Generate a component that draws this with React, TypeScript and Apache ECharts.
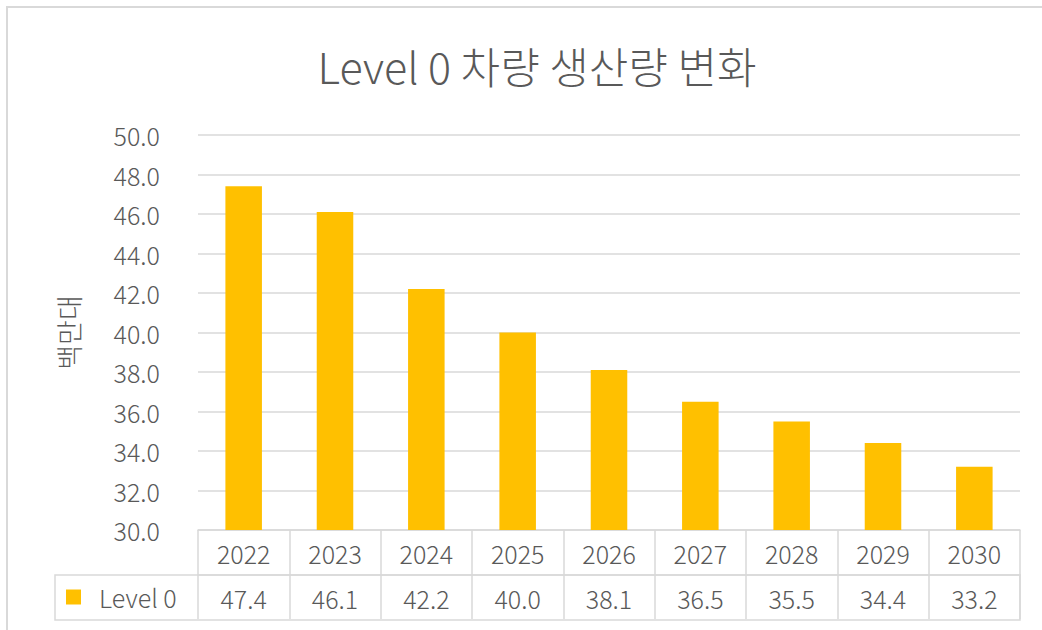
import React, { useEffect, useRef } from "react";
import * as echarts from "echarts";

const years = ["2022", "2023", "2024", "2025", "2026", "2027", "2028", "2029", "2030"];
const level0 = [47.4, 46.1, 42.2, 40.0, 38.1, 36.5, 35.5, 34.4, 33.2];
const seriesName = "Level 0";
const titleText = "Level 0 차량 생산량 변화";
const yAxisName = "백만대";
const yMin = 30;
const yMax = 50;
const yStep = 2;

const FONT = "'Noto Sans CJK KR', 'Noto Sans', sans-serif";
const TEXT = "#595959";
const LINE = "#d9d9d9";
const BAR = "#FFC000";
const W = 300;

export default function App() {
  const ref = useRef<HTMLDivElement>(null);
  useEffect(() => {
    if (!ref.current) return;
    const chart = echarts.init(ref.current, null, { renderer: "svg" });
    chart.setOption({
      animation: false,
      backgroundColor: "#ffffff",
      textStyle: { fontFamily: FONT, fontWeight: W },
      title: {
        text: titleText,
        left: 537,
        top: 43,
        padding: 0,
        textAlign: "center",
        textStyle: { fontFamily: FONT, fontSize: 43, fontWeight: W, color: TEXT },
      },
      legend: {
        data: [seriesName],
        left: 66,
        top: 584,
        padding: 0,
        icon: "rect",
        itemWidth: 15,
        itemHeight: 15,
        textStyle: { fontFamily: FONT, fontSize: 25, fontWeight: W, color: TEXT, padding: [0, 0, 0, 13], lineHeight: 26 },
      },
      grid: { left: 198, right: 22, top: 135, bottom: 100, containLabel: false },
      xAxis: [
        {
          type: "category",
          data: years,
          position: "bottom",
          boundaryGap: true,
          axisLine: { show: true, lineStyle: { color: LINE, width: 1.5 } },
          axisTick: { show: true, length: 45, interval: 0, lineStyle: { color: LINE, width: 1.5 } },
          axisLabel: { interval: 0, margin: 23, verticalAlign: "middle", fontFamily: FONT, fontWeight: W, fontSize: 25, color: TEXT },
          splitLine: { show: false },
        },
        {
          type: "category",
          data: level0.map((v) => v.toFixed(1)),
          position: "bottom",
          offset: 45,
          boundaryGap: true,
          axisLine: { show: true, lineStyle: { color: LINE, width: 1.5 } },
          axisTick: { show: true, length: 44, interval: 0, lineStyle: { color: LINE, width: 1.5 } },
          axisLabel: { interval: 0, margin: 23, verticalAlign: "middle", fontFamily: FONT, fontWeight: W, fontSize: 25, color: TEXT },
          splitLine: { show: false },
        },
      ],
      yAxis: {
        type: "value",
        min: yMin,
        max: yMax,
        interval: yStep,
        name: yAxisName,
        nameLocation: "middle",
        nameGap: 116,
        nameRotate: 90,
        nameTextStyle: { fontFamily: FONT, fontSize: 27, fontWeight: W, color: TEXT },
        axisLine: { show: false },
        axisTick: { show: false },
        axisLabel: {
          margin: 38,
          fontFamily: FONT,
          fontWeight: W,
          fontSize: 25,
          color: TEXT,
          formatter: (v: number) => v.toFixed(1),
        },
        splitLine: { lineStyle: { color: LINE, width: 1.5 } },
      },
      series: [
        {
          name: seriesName,
          type: "bar",
          xAxisIndex: 0,
          data: level0,
          barWidth: "40%",
          itemStyle: { color: BAR },
        },
      ],
      graphic: [
        {
          type: "rect",
          shape: { x: 7, y: 7, width: 1100, height: 700 },
          style: { fill: "none", stroke: LINE, lineWidth: 2 },
          silent: true,
        },
        {
          type: "rect",
          shape: { x: 55, y: 575, width: 965, height: 45 },
          style: { fill: "none", stroke: LINE, lineWidth: 1.5 },
          silent: true,
        },
      ],
    });
    return () => chart.dispose();
  }, []);
  return <div ref={ref} style={{ position: "fixed", left: 0, top: 0, width: 1042, height: 630 }} />;
}
